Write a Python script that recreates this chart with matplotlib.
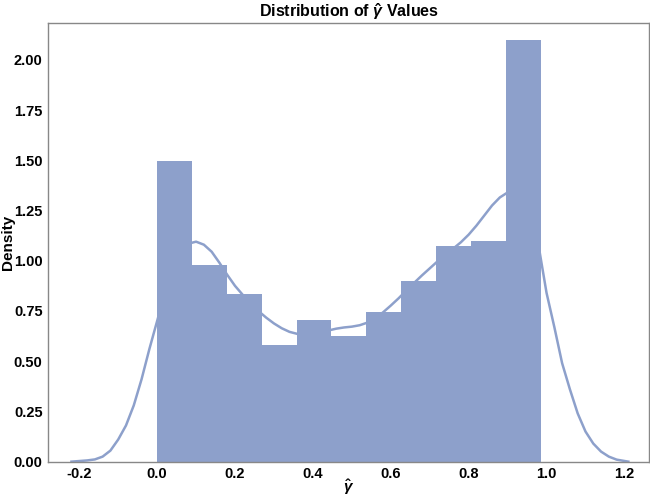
import numpy as np
import matplotlib
matplotlib.use('Agg')
import matplotlib.pyplot as plt

plt.rcParams['font.family'] = ['Liberation Sans', 'DejaVu Sans']
plt.rcParams['font.weight'] = 'bold'
plt.rcParams['axes.titleweight'] = 'bold'
plt.rcParams['axes.labelweight'] = 'bold'
plt.rcParams['mathtext.fontset'] = 'custom'
plt.rcParams['mathtext.rm'] = 'Liberation Sans:bold'
plt.rcParams['mathtext.it'] = 'Liberation Sans:italic:bold'

# histogram: 11 bins between 0 and the max of gamma-hat
gamma_min = 0.0
gamma_max = 0.985
hist_density = [1.495, 0.98, 0.833, 0.579, 0.703, 0.625, 0.746, 0.90, 1.073, 1.098, 2.098]

# kde curve
kde_x = [-0.22, -0.20, -0.18, -0.16, -0.14, -0.12, -0.10, -0.08, -0.06, -0.04, -0.02,
         0.00, 0.02, 0.04, 0.06, 0.08, 0.10, 0.12, 0.14, 0.16, 0.18, 0.20, 0.22, 0.24,
         0.26, 0.28, 0.30, 0.32, 0.34, 0.36, 0.38, 0.40, 0.42, 0.44, 0.46, 0.48, 0.50,
         0.52, 0.54, 0.56, 0.58, 0.60, 0.62, 0.64, 0.66, 0.68, 0.70, 0.72, 0.74, 0.76,
         0.78, 0.80, 0.82, 0.84, 0.86, 0.88, 0.90, 0.92, 0.94, 0.96, 0.98, 1.00, 1.02,
         1.04, 1.06, 1.08, 1.10, 1.12, 1.14, 1.16, 1.18, 1.21]
kde_y = [0.0, 0.003, 0.006, 0.011, 0.025, 0.055, 0.11, 0.18, 0.28, 0.41, 0.56,
         0.70, 0.84, 0.96, 1.045, 1.085, 1.095, 1.08, 1.045, 0.99, 0.93, 0.875, 0.83, 0.79,
         0.75, 0.717, 0.688, 0.664, 0.646, 0.636, 0.632, 0.634, 0.642, 0.653, 0.662, 0.668, 0.672,
         0.679, 0.692, 0.713, 0.743, 0.777, 0.813, 0.852, 0.89, 0.927, 0.962, 0.997, 1.03, 1.06,
         1.092, 1.13, 1.175, 1.225, 1.275, 1.315, 1.34, 1.35, 1.32, 1.22, 1.07, 0.84, 0.67,
         0.49, 0.36, 0.24, 0.15, 0.09, 0.05, 0.025, 0.01, 0.0]

color = '#8da0cb'

edges = np.linspace(gamma_min, gamma_max, len(hist_density) + 1)

fig = plt.figure(figsize=(6.5, 4.98), dpi=100)
ax = fig.add_axes([0.074, 0.073, 0.925, 0.881])

ax.bar(edges[:-1], hist_density, width=np.diff(edges), align='edge', color=color, linewidth=0)
ax.plot(kde_x, kde_y, color=color, lw=1.8)

ax.set_xlim(-0.28, 1.264)
ax.set_ylim(0, 2.184)
ax.set_xticks([-0.2, 0.0, 0.2, 0.4, 0.6, 0.8, 1.0, 1.2])
ax.set_yticks(np.arange(0, 2.01, 0.25))
ax.set_yticklabels(['%.2f' % v for v in np.arange(0, 2.01, 0.25)])
ax.xaxis.set_major_formatter(matplotlib.ticker.FormatStrFormatter('%.1f'))
ax.tick_params(length=0, labelsize=10.5, pad=4)

for s in ax.spines.values():
    s.set_color('#888888')
    s.set_linewidth(1.0)

ax.set_title(r'Distribution of $\hat{\gamma}$ Values', fontsize=11.5, pad=4)
ax.set_xlabel(r'$\hat{\gamma}$', fontsize=11)
ax.set_ylabel('Density', fontsize=11)
ax.yaxis.set_label_coords(-0.055, 0.5)
ax.xaxis.set_label_coords(0.5, -0.037)

fig.savefig('out.png', dpi=100)
